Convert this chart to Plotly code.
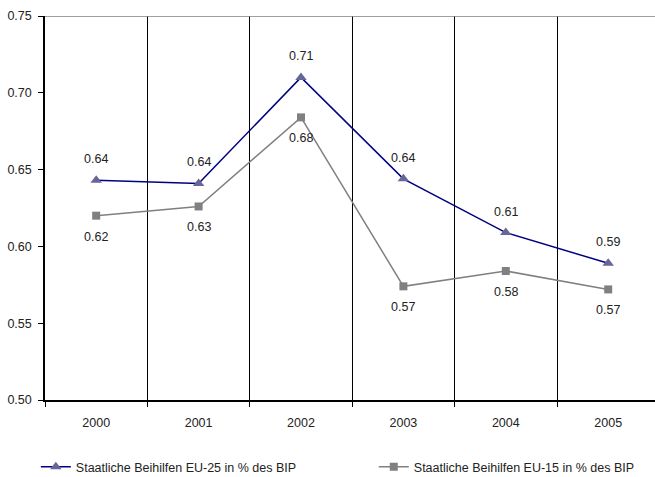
import plotly.graph_objects as go

years = ["2000", "2001", "2002", "2003", "2004", "2005"]
eu25 = [0.643, 0.641, 0.710, 0.644, 0.609, 0.589]
eu15 = [0.620, 0.626, 0.684, 0.574, 0.584, 0.572]
name25 = "Staatliche Beihilfen EU-25 in % des BIP"
name15 = "Staatliche Beihilfen EU-15 in % des BIP"
y_ticks = [0.50, 0.55, 0.60, 0.65, 0.70, 0.75]

FONT = "Liberation Sans, Arial, sans-serif"
FS = 12.5
TXT = "#222222"

fig = go.Figure()
fig.add_trace(go.Scatter(
    x=years, y=eu25, name=name25, mode="lines+markers",
    line=dict(color="#000080", width=1.5),
    marker=dict(symbol="triangle-up", size=10, color="#666699"),
    legend="legend",
))
fig.add_trace(go.Scatter(
    x=years, y=eu15, name=name15, mode="lines+markers",
    line=dict(color="#808080", width=1.5),
    marker=dict(symbol="square", size=8, color="#808080"),
    legend="legend2",
))

# value labels: EU-25 above its points, EU-15 below (x given as category index)
for i, v in enumerate(eu25):
    fig.add_annotation(x=i, y=v, xref="x", yref="y", text=f"{v:.2f}", showarrow=False,
                       yshift=21, font=dict(family=FONT, size=FS, color=TXT))
for i, v in enumerate(eu15):
    fig.add_annotation(x=i, y=v, xref="x", yref="y", text=f"{v:.2f}", showarrow=False,
                       yshift=-21, font=dict(family=FONT, size=FS, color=TXT))

# grey frame line along the top of the plot area
fig.add_shape(type="line", xref="paper", yref="y", x0=0, x1=1, y0=0.75, y1=0.75,
              line=dict(color="#808080", width=1.5))

legend_style = dict(orientation="h", xanchor="left", y=-0.1745, yanchor="middle",
                    font=dict(family=FONT, size=FS, color=TXT),
                    bgcolor="rgba(0,0,0,0)")

fig.update_layout(
    width=655, height=477,
    margin=dict(l=45, r=0, t=16, b=77, autoexpand=False),
    paper_bgcolor="white", plot_bgcolor="white",
    font=dict(family=FONT, size=FS, color=TXT),
    showlegend=True,
    legend=dict(x=-0.015, **legend_style),
    legend2=dict(x=0.539, **legend_style),
)
fig.update_xaxes(
    type="category", range=[-0.5, 5.457], tickson="boundaries",
    showline=True, linecolor="black", linewidth=1.5,
    showgrid=True, gridcolor="black", gridwidth=1,
    ticks="outside", ticklen=5, tickcolor="black",
    ticklabelstandoff=10, zeroline=False,
)
fig.update_yaxes(
    range=[0.50, 0.75], tickvals=y_ticks, tickformat=".2f",
    showline=True, linecolor="black", linewidth=1.5,
    showgrid=False, zeroline=False,
    ticks="outside", ticklen=5, tickcolor="black",
    ticklabelstandoff=4,
)

fig.write_html("out.html")
